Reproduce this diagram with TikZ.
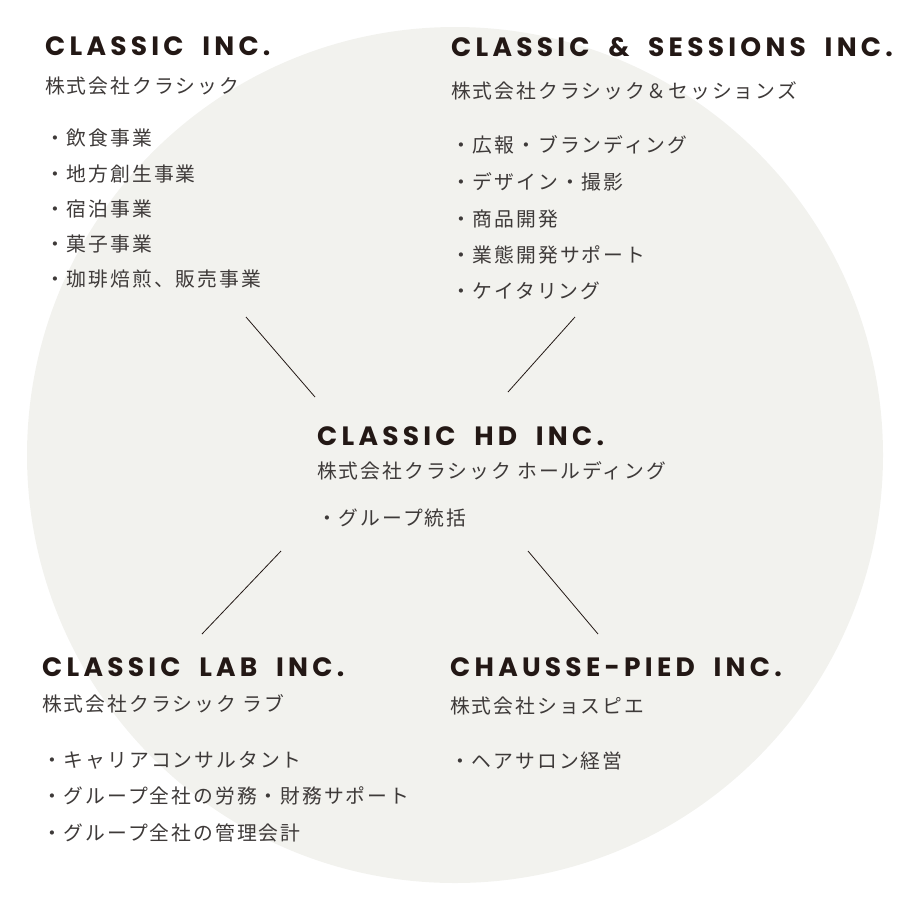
\documentclass[tikz,border=0pt]{standalone}
\usepackage{fontspec}
\usetikzlibrary{positioning}
\newfontfamily\enfont[LetterSpace=16, WordSpace=1.9]{Poppins}
\newfontfamily\jafont[LetterSpace=10]{Noto Sans CJK JP}
\definecolor{circlegray}{RGB}{242,242,238}
\definecolor{ink}{RGB}{35,24,21}
\definecolor{jaink}{RGB}{62,58,57}

\tikzset{
  coname/.style={anchor=base west, inner sep=0pt, text=ink, font=\enfont\bfseries\fontsize{26.5}{30}\selectfont},
  janame/.style={anchor=base west, inner sep=0pt, text=jaink, font=\jafont\fontsize{19.8}{22}\selectfont},
  bizitem/.style={janame},
  link/.style={draw=ink, line width=0.8pt}
}

\begin{document}
\begin{tikzpicture}[x=1pt, y=-1pt]
            \useasboundingbox (0,0) rectangle (909,906);
            % background circle
            \fill[circlegray] (455,455) circle (428);

            % holding company
            \node[coname] (hd) at (317,445) {CLASSIC HD INC.};
            \node[janame] (hdja) at (317,478) {株式会社クラシック ホールディング};
            \node[bizitem] (hd1) at (317,525) {・グループ統括};

            % classic inc.
            \node[coname] (ci) at (45,55) {CLASSIC INC.};
            \node[janame] (cija) at (45,93) {株式会社クラシック};
            \node[bizitem] (ci1) at (45,145) {・飲食事業};
            \node[bizitem] (ci2) at (45,181) {・地方創生事業};
            \node[bizitem] (ci3) at (45,216) {・宿泊事業};
            \node[bizitem] (ci4) at (45,251) {・菓子事業};
            \node[bizitem] (ci5) at (45,286) {・珈琲焙煎、販売事業};

            % classic & sessions inc.
            \node[coname] (cs) at (451,56) {CLASSIC \& SESSIONS INC.};
            \node[janame] (csja) at (451,98) {株式会社クラシック＆セッションズ};
            \node[bizitem] (cs1) at (451,152) {・広報・ブランディング};
            \node[bizitem] (cs2) at (451,189) {・デザイン・撮影};
            \node[bizitem] (cs3) at (451,226) {・商品開発};
            \node[bizitem] (cs4) at (451,262) {・業態開発サポート};
            \node[bizitem] (cs5) at (451,298) {・ケイタリング};

            % classic lab inc.
            \node[coname] (cl) at (42,676) {CLASSIC LAB INC.};
            \node[janame] (clja) at (42,711) {株式会社クラシック ラブ};
            \node[bizitem] (cl1) at (42,767) {・キャリアコンサルタント};
            \node[bizitem] (cl2) at (42,803) {・グループ全社の労務・財務サポート};
            \node[bizitem] (cl3) at (42,840) {・グループ全社の管理会計};

            % chausse-pied inc.
            \node[coname] (cp) at (450,676) {CHAUSSE-PIED INC.};
            \node[janame] (cpja) at (450,713) {株式会社ショスピエ};
            \node[bizitem] (cp1) at (450,768) {・ヘアサロン経営};

            % link ends
            \coordinate (ci-end) at (246,317);
            \coordinate (cs-end) at (575,317);
            \coordinate (cl-end) at (202,634);
            \coordinate (cp-end) at (598,634);
            \coordinate (hd-nw) at (315,397);
            \coordinate (hd-ne) at (508,392);
            \coordinate (hd-sw) at (281,551);
            \coordinate (hd-se) at (528,551);

            \draw[link] (ci-end) -- (hd-nw);
            \draw[link] (cs-end) -- (hd-ne);
            \draw[link] (hd-sw) -- (cl-end);
            \draw[link] (hd-se) -- (cp-end);
        \end{tikzpicture}
\end{document}
